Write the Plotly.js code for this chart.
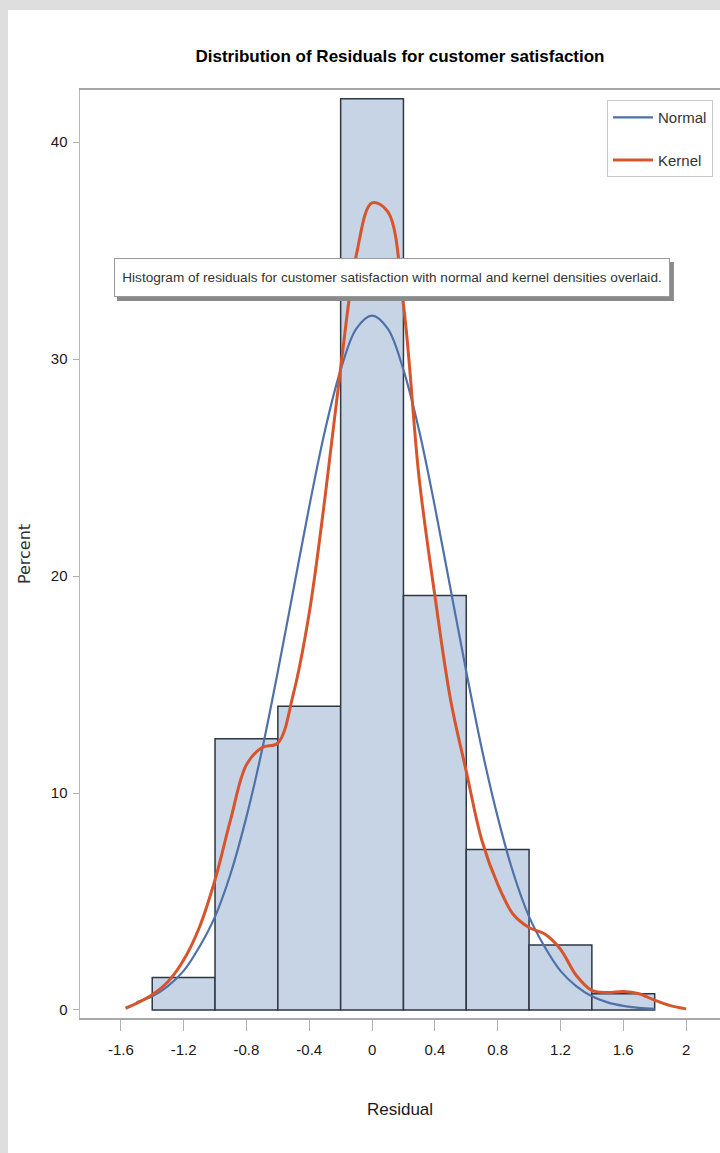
<!DOCTYPE html>
<html>
<head>
<meta charset="utf-8">
<script src="https://cdn.plot.ly/plotly-3.0.1.min.js"></script>
<style>
  html, body { margin: 0; padding: 0; background: #dedede; }
  #chart { position: absolute; left: 8px; top: 10px; width: 712px; height: 1143px; background: #ffffff; }
</style>
</head>
<body>
<div id="chart"></div>
<script>
// Histogram bins (centers) and percent values
const binCenters = [-1.2, -0.8, -0.4, 0.0, 0.4, 0.8, 1.2, 1.6];
const binPercent = [1.5, 12.5, 14.0, 42.0, 19.1, 7.4, 3.0, 0.75];
const binWidth = 0.4;

// Normal density curve (percent scale)
const normalX = [-1.5, -1.4, -1.3, -1.2, -1.1, -1.0, -0.9, -0.8, -0.7, -0.6, -0.5, -0.4, -0.3, -0.2, -0.1, 0.0,
                 0.1, 0.2, 0.3, 0.4, 0.5, 0.6, 0.7, 0.8, 0.9, 1.0, 1.1, 1.2, 1.3, 1.4, 1.5, 1.6, 1.7, 1.8];
const normalY = [0.35, 0.63, 1.1, 1.8, 2.9, 4.3, 6.3, 8.9, 12.0, 15.6, 19.4, 23.2, 26.7, 29.5, 31.4, 32.0,
                 31.4, 29.5, 26.7, 23.2, 19.4, 15.6, 12.0, 8.9, 6.3, 4.3, 2.9, 1.8, 1.1, 0.63, 0.35, 0.19, 0.1, 0.05];

// Kernel density curve (percent scale)
const kernelX = [-1.57, -1.5, -1.4, -1.3, -1.2, -1.1, -1.0, -0.9, -0.8, -0.7, -0.6, -0.5, -0.4, -0.3, -0.2, -0.1, 0.0,
                 0.1, 0.2, 0.3, 0.4, 0.5, 0.6, 0.7, 0.8, 0.9, 1.0, 1.1, 1.2, 1.3, 1.4, 1.5, 1.6, 1.7, 1.8, 1.9, 2.0];
const kernelY = [0.08, 0.3, 0.7, 1.3, 2.3, 3.8, 6.0, 8.8, 11.3, 12.1, 12.3, 14.6, 18.3, 23.6, 29.6, 34.8, 37.2,
                 36.8, 32.5, 24.5, 19.1, 14.3, 11.0, 7.8, 5.8, 4.4, 3.8, 3.5, 2.8, 1.6, 0.9, 0.8, 0.85, 0.75, 0.45, 0.2, 0.05];

// Tick labels
const xTickVals = [-1.6, -1.2, -0.8, -0.4, 0, 0.4, 0.8, 1.2, 1.6, 2];
const xTickText = ["-1.6", "-1.2", "-0.8", "-0.4", "0", "0.4", "0.8", "1.2", "1.6", "2"];
const yTickVals = [0, 10, 20, 30, 40];
const yTickText = ["0", "10", "20", "30", "40"];

const titleText = "Distribution of Residuals for customer satisfaction";
const noteText = "Histogram of residuals for customer satisfaction with normal and kernel densities overlaid.";

const sans = "Liberation Sans, Arial, sans-serif";

const traces = [
  {
    type: "bar",
    x: binCenters,
    y: binPercent,
    width: binCenters.map(() => binWidth),
    marker: { color: "#c7d4e6", line: { color: "#2f3742", width: 1.5 } },
    showlegend: false,
    hoverinfo: "skip"
  },
  {
    type: "scatter",
    mode: "lines",
    name: "Normal",
    x: normalX,
    y: normalY,
    line: { color: "#4f71a8", width: 2.2, shape: "spline" },
    legendgroup: "n",
    hoverinfo: "skip"
  },
  {
    type: "scatter",
    mode: "lines",
    name: "Kernel",
    x: kernelX,
    y: kernelY,
    line: { color: "#d6552d", width: 3, shape: "spline" },
    legendgroup: "k",
    hoverinfo: "skip"
  }
];

const layout = {
  width: 712,
  height: 1143,
  margin: { l: 72, r: 0, t: 80, b: 135 },
  paper_bgcolor: "#ffffff",
  plot_bgcolor: "#ffffff",
  showlegend: true,
  bargap: 0,
  title: {
    text: "<b>" + titleText + "</b>",
    font: { family: sans, size: 17, color: "#000000" },
    x: 0.5, xref: "paper", xanchor: "center",
    y: 1 - 46 / 1143, yref: "container", yanchor: "middle"
  },
  xaxis: {
    range: [-1.86, 2.216],
    tickvals: xTickVals,
    ticktext: xTickText,
    ticks: "outside",
    ticklen: 11,
    tickwidth: 1,
    tickcolor: "#b0b0b0",
    ticklabelstandoff: 6,
    tickfont: { family: sans, size: 15, color: "#1a1a1a" },
    showline: true,
    linecolor: "#a8a8a8",
    linewidth: 2,
    mirror: true,
    showgrid: false,
    zeroline: false,
    title: { text: "Residual", font: { family: sans, size: 17, color: "#1a1a1a" }, standoff: 46 }
  },
  yaxis: {
    range: [-0.37, 42.4],
    tickvals: yTickVals,
    ticktext: yTickText,
    ticks: "outside",
    ticklen: 6,
    tickwidth: 1,
    tickcolor: "#b0b0b0",
    ticklabelstandoff: 2,
    tickfont: { family: sans, size: 15, color: "#1a1a1a" },
    showline: true,
    linecolor: "#b8b8b8",
    linewidth: 1.5,
    showgrid: false,
    zeroline: false,
    title: { text: "Percent", font: { family: "DejaVu Sans, sans-serif", size: 16, color: "#333333" }, standoff: 16 }
  },
  legend: {
    x: 0.989, xanchor: "right",
    y: 0.989, yanchor: "top",
    bgcolor: "#ffffff",
    bordercolor: "#c8c8c8",
    borderwidth: 1,
    font: { family: sans, size: 15, color: "#333333" },
    tracegroupgap: 20,
    itemwidth: 40
  },
  shapes: [
    {
      type: "rect", xref: "paper", yref: "paper",
      x0: 0.0578, x1: 0.928, y0: 0.7726, y1: 0.8147,
      fillcolor: "#8a8a8a", line: { width: 0 }, layer: "above"
    }
  ],
  annotations: [
    {
      xref: "paper", yref: "paper",
      x: 0.487, y: 0.798, xanchor: "center", yanchor: "middle",
      text: noteText,
      showarrow: false,
      font: { family: sans, size: 13.6, color: "#333333" },
      bgcolor: "#ffffff",
      bordercolor: "#9a9a9a",
      borderwidth: 1,
      borderpad: 2,
      width: 550,
      height: 33
    }
  ]
};

Plotly.newPlot("chart", traces, layout, { displayModeBar: false, staticPlot: true });
</script>
</body>
</html>
